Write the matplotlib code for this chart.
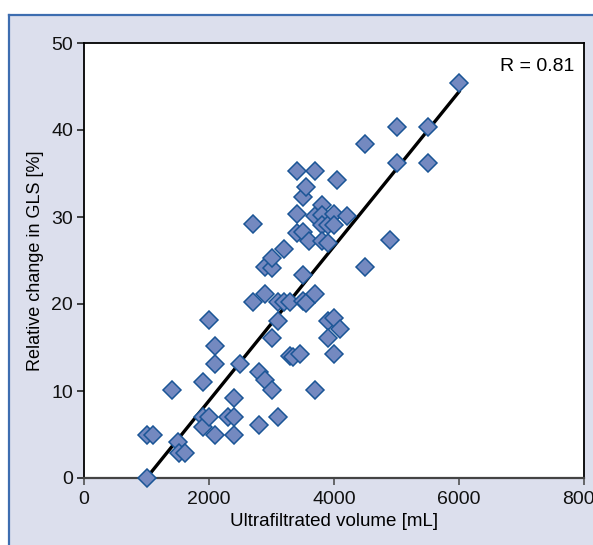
import numpy as np
import matplotlib
matplotlib.use('Agg')
import matplotlib.pyplot as plt
from matplotlib.patches import Rectangle
from matplotlib.lines import Line2D

plt.rcParams['font.family'] = ['Liberation Sans Narrow', 'Liberation Sans', 'DejaVu Sans']

##### data #####
volume = [1000, 1000, 1100, 1400, 1500, 1520, 1620, 1900, 1900, 1900,
          2000, 2000, 2100, 2100, 2100, 2300, 2400, 2400, 2400, 2500,
          2700, 2700, 2800, 2800, 2900, 2900, 2900, 3000, 3000, 3000,
          3000, 3100, 3100, 3100, 3200, 3200, 3300, 3300, 3350, 3400,
          3400, 3400, 3450, 3500, 3500, 3500, 3500, 3550, 3550, 3600,
          3700, 3700, 3700, 3700, 3800, 3800, 3800, 3800, 3900, 3900,
          3900, 3900, 4000, 4000, 4000, 4000, 4050, 4100, 4200, 4500,
          4500, 4900, 5000, 5000, 5500, 5500, 6000]
gls_change = [0.0, 5.0, 4.9, 10.1, 4.1, 2.9, 2.9, 11.0, 7.0, 5.9,
              18.2, 7.0, 15.2, 13.1, 4.9, 7.0, 7.0, 9.2, 4.9, 13.1,
              20.2, 29.2, 12.2, 6.1, 11.3, 21.2, 24.3, 10.1, 16.1, 24.1,
              25.3, 18.1, 20.2, 7.0, 20.2, 26.3, 20.2, 14.0, 13.9, 30.3,
              28.2, 35.3, 14.2, 23.3, 20.3, 32.3, 28.3, 33.5, 20.1, 27.2,
              10.1, 21.2, 35.3, 30.1, 31.4, 30.2, 29.1, 27.2, 29.1, 27.0,
              18.1, 16.1, 30.3, 29.1, 18.4, 14.2, 34.3, 17.1, 30.1, 38.4,
              24.2, 27.3, 40.4, 36.2, 40.4, 36.2, 45.4]

# regression line
fit_slope = 0.00888
fit_intercept = -8.88
fit_range = [1000, 6000]
r_text = 'R = 0.81'

xticks = [0, 2000, 4000, 6000, 8000]
yticks = [0, 10, 20, 30, 40, 50]

fig = plt.figure(figsize=(5.93, 5.45), dpi=100)

# lavender panel with blue border on left and top (behind the axes)
x0 = 9 / 593.0
y1 = 1 - 15 / 545.0
fig.patches.append(Rectangle((x0, 0), 1 - x0, y1, transform=fig.transFigure,
                             facecolor='#dcdfed', edgecolor='none', zorder=-10))
fig.lines.append(Line2D([x0, x0], [0, y1], transform=fig.transFigure,
                        color='#3d6db0', lw=1.6, zorder=-9))
fig.lines.append(Line2D([x0, 1], [y1, y1], transform=fig.transFigure,
                        color='#3d6db0', lw=1.6, zorder=-9))

ax = fig.add_axes([84 / 593.0, 1 - 478 / 545.0, 500 / 593.0, 435 / 545.0])
ax.set_facecolor('white')

fx = np.array(fit_range, dtype=float)
ax.plot(fx, fit_slope * fx + fit_intercept, color='black', lw=2.4, zorder=2)
ax.plot(volume, gls_change, 'D', ms=9, mfc='#7489c0', mec='#1a5596',
        mew=1.1, zorder=3, clip_on=False)

ax.set_xlim(0, 8000)
ax.set_ylim(0, 50)
ax.set_xticks(xticks)
ax.set_yticks(yticks)
ax.tick_params(direction='out', length=5, width=1.1, labelsize=14, pad=3,
               colors='#111111')
ax.tick_params(axis='x', colors='#444444', labelcolor='#111111', pad=4)
for s in ['left', 'top', 'right']:
    ax.spines[s].set_linewidth(1.3)
    ax.spines[s].set_color('black')
ax.spines['bottom'].set_linewidth(1.6)
ax.spines['bottom'].set_color('#444444')

ax.set_xlabel('Ultrafiltrated volume [mL]', fontsize=13.5, labelpad=4)
ax.set_ylabel('Relative change in GLS [%]', fontsize=13, labelpad=5)
ax.text(0.98, 0.947, r_text, transform=ax.transAxes, ha='right', va='center',
        fontsize=14)

fig.savefig('out.png', dpi=100)
